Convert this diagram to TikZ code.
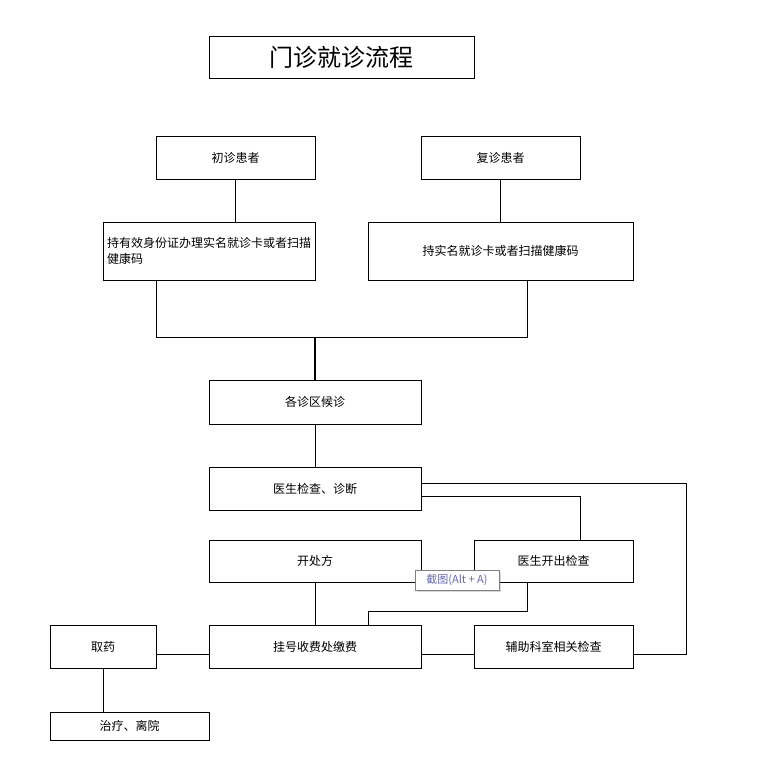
\documentclass[tikz,border=0pt]{standalone}
\usepackage{fontspec}
\setmainfont{Noto Sans CJK SC}
\usetikzlibrary{shadows}
\begin{document}
\begin{tikzpicture}[x=1pt,y=-1pt,
  box/.style={draw,line width=0.8pt,inner sep=2pt,font=\fontsize{12}{16}\selectfont},
  ln/.style={line width=0.8pt}]
\useasboundingbox (0,0) rectangle (766,770);
\node[box,minimum width=265,minimum height=42,font=\fontsize{24}{28}\selectfont] (t) at (341.5,57) {门诊就诊流程};
\node[box,minimum width=159,minimum height=43] (a) at (235.5,157.5) {初诊患者};
\node[box,minimum width=159,minimum height=43] (b) at (500.5,157.5) {复诊患者};
\node[box,minimum width=212,minimum height=58,align=left,text width=204] (c) at (209,251) {持有效身份证办理实名就诊卡或者扫描\\健康码};
\node[box,minimum width=265,minimum height=58] (d) at (500.5,251) {持实名就诊卡或者扫描健康码};
\node[box,minimum width=212,minimum height=44] (e) at (315,402) {各诊区候诊};
\node[box,minimum width=212,minimum height=43] (f) at (315,488.5) {医生检查、诊断};
\node[box,minimum width=212,minimum height=42] (g) at (315,561) {开处方};
\node[box,minimum width=159,minimum height=42] (h) at (553.5,561) {医生开出检查};
\node[box,minimum width=212,minimum height=43] (i) at (315,646.5) {挂号收费处缴费};
\node[box,minimum width=159,minimum height=43] (j) at (553.5,646.5) {辅助科室相关检查};
\node[box,minimum width=106,minimum height=43] (k) at (103,646.5) {取药};
\node[box,minimum width=159,minimum height=28] (l) at (129.5,726) {治疗、离院};
\coordinate (m) at (315,337);
\draw[ln] (a) -- (a|-c.north);
\draw[ln] (b) -- (b|-c.north);
\draw[ln] (156,280) -- (156,337) -- (527,337) -- (527,280);
\draw[line width=2pt] (m) -- (e.north);
\draw[ln] (e) -- (f);
\draw[ln] (f.east|-0,483) -- (686,483) -- (686,654) -- (j.east|-0,654);
\draw[ln] (f.east|-0,496) -- (580,496) -- (580,540);
\draw[ln] (g) -- (i);
\draw[ln] (527,582) -- (527,611) -- (368,611) -- (368,625);
\draw[ln] (k.east|-0,654) -- (i.west|-0,654);
\draw[ln] (i.east|-0,654) -- (j.west|-0,654);
\draw[ln] (k.south) -- (k.south|-l.north);
\node[draw=gray,fill=white,drop shadow={shadow xshift=2pt,shadow yshift=-2pt,opacity=0.3},minimum width=84,minimum height=20,inner sep=1pt,font=\fontsize{11}{13}\selectfont,text=black!55!blue!60] (tip) at (457,580) {截图(Alt + A)};
\end{tikzpicture}
\end{document}
